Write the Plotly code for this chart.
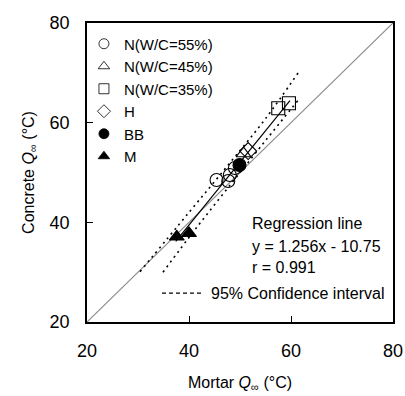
import plotly.graph_objects as go

# Data (Mortar Q∞, Concrete Q∞)
n55_x = [45.4, 47.7, 48.0, 49.0]
n55_y = [48.5, 48.3, 49.5, 50.9]
n45_x = [50.7]
n45_y = [53.8]
n35_x = [57.5, 59.6]
n35_y = [62.9, 63.9]
h_x = [51.6]
h_y = [54.3]
bb_x = [49.9]
bb_y = [51.5]
m_x = [37.6, 40.0]
m_y = [37.1, 37.8]

reg_x = [37.4, 59.8]
reg_y = [36.2, 64.4]

ci_up_x = [30.4, 40.0, 48.0, 55.0, 61.4]
ci_up_y = [30.1, 42.0, 51.9, 60.8, 70.0]
ci_lo_x = [34.9, 41.0, 48.0, 55.0, 61.4]
ci_lo_y = [30.0, 38.3, 47.4, 56.4, 64.5]

eq_x = [20, 80]
eq_y = [20, 80]

series = [
    ("N(W/C=55%)", n55_x, n55_y, "circle-open"),
    ("N(W/C=45%)", n45_x, n45_y, "triangle-up-open"),
    ("N(W/C=35%)", n35_x, n35_y, "square-open"),
    ("H", h_x, h_y, "diamond-open"),
    ("BB", bb_x, bb_y, "circle"),
    ("M", m_x, m_y, "triangle-up"),
]

FONT = "Liberation Sans, Arial, sans-serif"
fig = go.Figure()

fig.add_trace(go.Scatter(x=eq_x, y=eq_y, mode="lines",
                         line=dict(color="#8c8c8c", width=1.2), showlegend=False))
for cx, cy in [(ci_up_x, ci_up_y), (ci_lo_x, ci_lo_y)]:
    fig.add_trace(go.Scatter(x=cx, y=cy, mode="lines", line_shape="spline",
                             line=dict(color="black", width=1.6, dash="2px,4px"),
                             showlegend=False))
fig.add_trace(go.Scatter(x=reg_x, y=reg_y, mode="lines",
                         line=dict(color="black", width=1.2), showlegend=False))

for name, xs, ys, sym in series:
    fig.add_trace(go.Scatter(x=xs, y=ys, mode="markers", showlegend=False,
                             marker=dict(symbol=sym, size=13, color="black",
                                         line=dict(color="black", width=1.1))))
    fig.add_trace(go.Scatter(x=[None], y=[None], mode="markers", name=name,
                             marker=dict(symbol=sym, size=10, color="black",
                                         line=dict(color="black", width=0.8))))

fig.add_annotation(x=52.0, y=39.8, text="Regression line", showarrow=False,
                   xanchor="left", yanchor="middle", font=dict(size=16, family=FONT, color="black"))
fig.add_annotation(x=52.0, y=35.2, text="y = 1.256x - 10.75", showarrow=False,
                   xanchor="left", yanchor="middle", font=dict(size=16, family=FONT, color="black"))
fig.add_annotation(x=52.0, y=30.9, text="r = 0.991", showarrow=False,
                   xanchor="left", yanchor="middle", font=dict(size=16, family=FONT, color="black"))
fig.add_annotation(x=44.0, y=25.8, text="95% Confidence interval", showarrow=False,
                   xanchor="left", yanchor="middle", font=dict(size=16, family=FONT, color="black"))
fig.add_shape(type="line", x0=34.7, x1=42.6, y0=25.8, y1=25.8, xref="x", yref="y",
              line=dict(color="black", width=1.2, dash="4px,3px"))

axis_common = dict(range=[20, 80], tickvals=[20, 40, 60, 80], ticks="inside", ticklen=6,
                   tickwidth=1, tickcolor="black", showline=True, linecolor="black",
                   linewidth=1.5, mirror=True, showgrid=False, zeroline=False,
                   ticklabelstandoff=12, automargin=False,
                   tickfont=dict(size=18, family=FONT, color="black"))

fig.update_layout(
    width=405, height=396,
    margin=dict(l=87, r=12, t=23, b=74),
    paper_bgcolor="white", plot_bgcolor="white",
    font=dict(family=FONT, color="black"),
    xaxis=dict(axis_common, title=dict(text="Mortar <i>Q</i><sub>∞</sub> (°C)",
                                       font=dict(size=16, family=FONT), standoff=16)),
    yaxis=dict(axis_common, title=dict(text="Concrete <i>Q</i><sub>∞</sub> (°C)",
                                       font=dict(size=16, family=FONT), standoff=11)),
    legend=dict(x=-0.01, y=0.985, xanchor="left", yanchor="top", bgcolor="rgba(0,0,0,0)",
                font=dict(size=15, family=FONT, color="black"), tracegroupgap=0,
                itemsizing="trace"),
)

fig.write_html("out.html", config={"displayModeBar": False},
               post_script="document.body.style.margin='0px';")
